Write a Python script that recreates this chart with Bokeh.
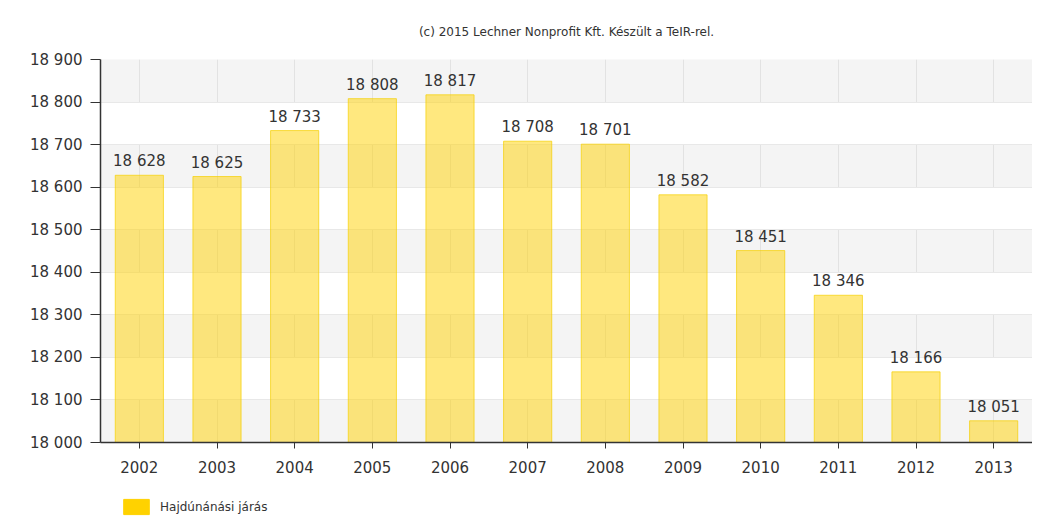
from bokeh.plotting import figure
from bokeh.layouts import column
from bokeh.models import FixedTicker, Legend, LegendItem, ColumnDataSource, Title, LabelSet
from bokeh.core.properties import value
from bokeh.embed import file_html
from bokeh.resources import INLINE

years = ["2002", "2003", "2004", "2005", "2006", "2007", "2008", "2009", "2010", "2011", "2012", "2013"]
values = [18628, 18625, 18733, 18808, 18817, 18708, 18701, 18582, 18451, 18346, 18166, 18051]
y_ticks = [18000, 18100, 18200, 18300, 18400, 18500, 18600, 18700, 18800, 18900]
series_name = "Hajdúnánási járás"
title_text = "(c) 2015 Lechner Nonprofit Kft. Készült a TeIR-rel."

def fmt(v):
    return f"{v:,}".replace(",", " ")

src = ColumnDataSource(dict(x=years, top=values, lab=[fmt(v) for v in values]))

p = figure(x_range=years, y_range=(18000, 18900), frame_width=932, frame_height=383,
           output_backend="svg", toolbar_location=None,
           min_border_left=100, min_border_right=0, min_border_top=59, min_border_bottom=40)
p.x_range.range_padding = 0
p.background_fill_color = "#f4f4f4"
p.border_fill_color = "white"
p.outline_line_color = None

p.title = Title(text=title_text, align="center", vertical_align="top", text_font="DejaVu Sans",
                text_font_size="12px", text_font_style="normal", text_color="#333333",
                standoff=37)

p.vbar(x="x", top="top", bottom=18000, width=0.62, source=src,
       fill_color="#ffd200", fill_alpha=0.5, line_color="#f5d000", line_alpha=0.7, line_width=1)

labels = LabelSet(x="x", y="top", text="lab", source=src, text_align="center",
                  text_baseline="bottom", y_offset=5, text_font=value("DejaVu Sans"),
                  text_font_size="15px", text_color="#333333")
p.add_layout(labels)

p.yaxis.ticker = FixedTicker(ticks=y_ticks)
p.yaxis.major_label_overrides = {t: fmt(t) for t in y_ticks}
p.yaxis.minor_tick_line_color = None
p.yaxis.major_tick_in = 0
p.yaxis.major_tick_out = 10
p.yaxis.axis_line_color = "#333333"
p.yaxis.axis_line_width = 1.5
p.yaxis.major_tick_line_color = "#333333"
p.yaxis.major_label_text_font = "DejaVu Sans"
p.yaxis.major_label_text_font_size = "15px"
p.yaxis.major_label_text_color = "#333333"
p.yaxis.major_label_standoff = 8

p.xaxis.major_tick_in = 0
p.xaxis.major_tick_out = 6
p.xaxis.axis_line_color = "#333333"
p.xaxis.axis_line_width = 1.5
p.xaxis.major_tick_line_color = "#333333"
p.xaxis.major_label_text_font = "DejaVu Sans"
p.xaxis.major_label_text_font_size = "15px"
p.xaxis.major_label_text_color = "#333333"
p.xaxis.major_label_standoff = 12

p.ygrid.grid_line_color = "#e8e8e8"
p.ygrid.band_fill_color = "white"
p.ygrid.band_fill_alpha = 1
p.xgrid.grid_line_color = "#e2e2e2"

# legend strip below the chart
lg = figure(width=1032, height=34, output_backend="svg", toolbar_location=None,
            min_border=0, x_range=(0, 1), y_range=(0, 1))
lg.axis.visible = False
lg.grid.visible = False
lg.outline_line_color = None
lg.background_fill_color = "white"
lg.border_fill_color = "white"
legend_r = lg.vbar(x=[5], top=[1], bottom=0, width=0.6, fill_color="#ffd200", line_color="#ffd200")
legend = Legend(items=[LegendItem(label=series_name, renderers=[legend_r])],
                location=(20, 0), orientation="horizontal", border_line_color=None,
                background_fill_alpha=0, glyph_width=32, glyph_height=19,
                label_text_font="DejaVu Sans", label_text_font_size="12px",
                label_text_color="#333333", padding=2, margin=0, label_standoff=8)
lg.add_layout(legend)

layout = column(p, lg, spacing=0)
open("out.html", "w").write(file_html(layout, INLINE))
